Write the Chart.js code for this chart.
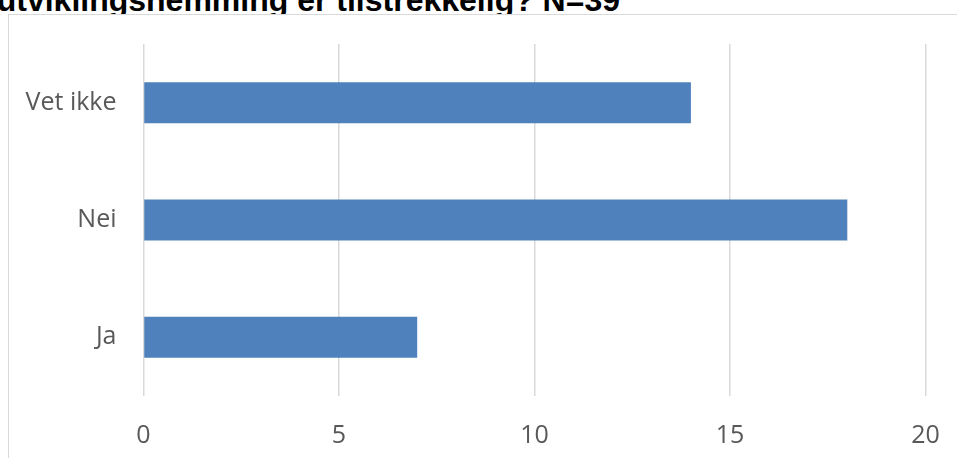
<!DOCTYPE html>
<html>
<head>
<meta charset="utf-8">
<script src="https://cdn.jsdelivr.net/npm/chart.js@4"></script>
<style>
    html, body {
        margin: 0;
        padding: 0;
        width: 957px;
        height: 458px;
        overflow: hidden;
        background: #ffffff;
    }
    #title {
        position: absolute;
        right: 337px;
        top: -16px;
        line-height: 32px;
        font-family: "Liberation Sans", Arial, sans-serif;
        font-weight: bold;
        font-size: 32px;
        color: #000000;
        white-space: nowrap;
    }
    #chart-box {
        position: absolute;
        left: 8px;
        top: 14px;
        width: 960px;
        height: 460px;
        border: 1px solid #d9d9d9;
        background: #ffffff;
    }
</style>
</head>
<body>
<div id="title">utviklingshemming er tilstrekkelig? N=39</div>
<div id="chart-box">
    <canvas id="barChart" width="960" height="460"></canvas>
</div>
<script>
// Categories top to bottom, as in the picture
const categories = ['Vet ikke', 'Nei', 'Ja'];
const answers = [14, 18, 7];
const xTicks = [0, 5, 10, 15, 20];

const tickFont = { family: '"Open Sans", sans-serif', size: 25 };
const tickColor = '#595959';
const gridColor = '#d9d9d9';

new Chart(document.getElementById('barChart'), {
    type: 'bar',
    data: {
        labels: categories,
        datasets: [{
            data: answers,
            backgroundColor: '#4f81bd',
            borderWidth: 0,
            categoryPercentage: 0.5,
            barPercentage: 0.7
        }]
    },
    options: {
        indexAxis: 'y',
        responsive: false,
        animation: false,
        layout: {
            padding: { left: 0, top: 29, right: 43.5, bottom: 0 }
        },
        plugins: {
            legend: { display: false },
            tooltip: { enabled: false }
        },
        scales: {
            x: {
                min: xTicks[0],
                max: xTicks[xTicks.length - 1],
                afterBuildTicks: scale => {
                    scale.ticks = xTicks.map(v => ({ value: v }));
                },
                afterFit: scale => { scale.height = 79; },
                grid: {
                    color: gridColor,
                    lineWidth: 1.5,
                    drawTicks: false
                },
                border: { display: false },
                ticks: {
                    font: tickFont,
                    color: tickColor,
                    padding: 25
                }
            },
            y: {
                afterFit: scale => {
                    scale.width = 134.5;
                    // let the layout padding alone decide the top edge
                    scale.paddingTop = 0;
                    scale.paddingBottom = 0;
                },
                grid: { display: false, drawTicks: false },
                border: { display: false },
                ticks: {
                    font: tickFont,
                    color: tickColor,
                    padding: 27
                }
            }
        }
    }
});
</script>
</body>
</html>
